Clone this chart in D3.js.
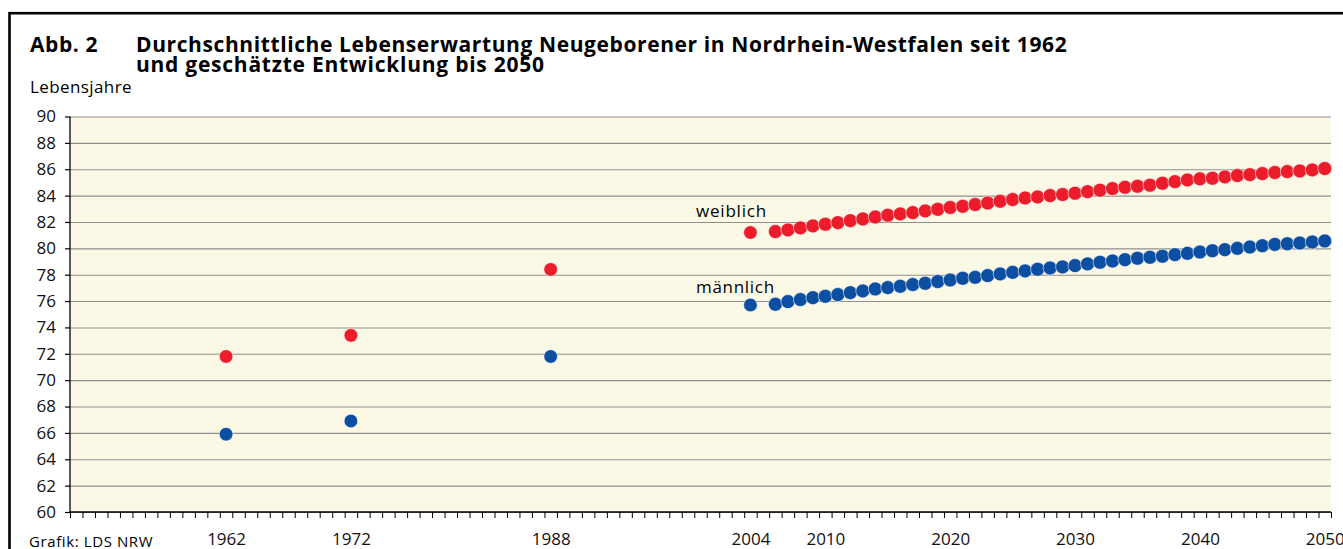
<!DOCTYPE html>
<html>
<head>
<meta charset="utf-8">
<script src="https://cdn.jsdelivr.net/npm/d3@7"></script>
<style>
  body { margin: 0; background: #fff; }
  svg { display: block; }
  .axis text { font-family: "Open Sans", sans-serif; font-size: 17px; fill: #111; }
</style>
</head>
<body>
<svg id="chart"></svg>
<script>
// observed years and values
var obsYears = [1962, 1972, 1988, 2004];
var obsWeiblich = [71.8, 73.4, 78.4, 81.2];
var obsMaennlich = [65.9, 66.9, 71.8, 75.7];

// estimated development 2006-2050
var estYears = [2006, 2007, 2008, 2009, 2010, 2011, 2012, 2013, 2014, 2015,
  2016, 2017, 2018, 2019, 2020, 2021, 2022, 2023, 2024, 2025,
  2026, 2027, 2028, 2029, 2030, 2031, 2032, 2033, 2034, 2035,
  2036, 2037, 2038, 2039, 2040, 2041, 2042, 2043, 2044, 2045,
  2046, 2047, 2048, 2049, 2050];
var estWeiblich = [81.27, 81.40, 81.55, 81.70, 81.83, 81.95, 82.10, 82.23, 82.38, 82.51,
  82.61, 82.71, 82.84, 82.96, 83.10, 83.19, 83.32, 83.44, 83.57, 83.70,
  83.82, 83.90, 84.00, 84.08, 84.18, 84.30, 84.41, 84.53, 84.63, 84.71,
  84.79, 84.94, 85.06, 85.19, 85.27, 85.32, 85.42, 85.52, 85.59, 85.67,
  85.75, 85.82, 85.87, 85.95, 86.05];
var estMaennlich = [75.76, 75.96, 76.11, 76.26, 76.36, 76.49, 76.64, 76.77, 76.92, 77.02,
  77.12, 77.25, 77.35, 77.48, 77.60, 77.73, 77.80, 77.93, 78.06, 78.18,
  78.29, 78.41, 78.51, 78.59, 78.69, 78.82, 78.94, 79.04, 79.14, 79.25,
  79.32, 79.40, 79.52, 79.62, 79.72, 79.82, 79.90, 80.00, 80.10, 80.20,
  80.30, 80.35, 80.40, 80.48, 80.56];

var xLabels = [1962, 1972, 1988, 2004, 2010, 2020, 2030, 2040, 2050];
var yTicks = [60, 62, 64, 66, 68, 70, 72, 74, 76, 78, 80, 82, 84, 86, 88, 90];
var firstYear = 1950, lastYear = 2050;

var width = 1343, height = 549;
var plotLeft = 70, plotRight = 1331, plotTop = 116.5, plotBottom = 512;

var svg = d3.select("#chart")
  .attr("width", width)
  .attr("height", height);

// outer frame
svg.append("rect")
  .attr("x", 9.5).attr("y", 13.2)
  .attr("width", 1500).attr("height", 700)
  .attr("fill", "none")
  .attr("stroke", "#000")
  .attr("stroke-width", 2.6);

// title
var title = svg.append("g")
  .attr("font-family", "'Open Sans', sans-serif")
  .attr("font-weight", "bold")
  .attr("font-size", "21px")
  .attr("letter-spacing", "0.6px")
  .attr("fill", "#000");
title.append("text").attr("x", 30).attr("y", 52).text("Abb. 2");
title.append("text").attr("x", 136).attr("y", 52)
  .text("Durchschnittliche Lebenserwartung Neugeborener in Nordrhein-Westfalen seit 1962");
title.append("text").attr("x", 136).attr("y", 71.5)
  .attr("letter-spacing", "0.75px")
  .text("und geschätzte Entwicklung bis 2050");

svg.append("text")
  .attr("x", 30).attr("y", 93)
  .attr("font-family", "'Open Sans', sans-serif")
  .attr("font-size", "17px")
  .attr("letter-spacing", "0.4px")
  .text("Lebensjahre");

svg.append("text")
  .attr("x", 29).attr("y", 547)
  .attr("font-family", "'Open Sans', sans-serif")
  .attr("font-size", "15px")
  .attr("letter-spacing", "0.6px")
  .text("Grafik: LDS NRW");

// scales
var x = d3.scaleLinear()
  .domain([firstYear - 0.5, lastYear + 0.5])
  .range([plotLeft, plotRight]);

var y = d3.scaleLinear()
  .domain([60, 90])
  .range([plotBottom, plotTop]);

// plot background
svg.append("rect")
  .attr("x", plotLeft).attr("y", plotTop)
  .attr("width", plotRight - plotLeft).attr("height", plotBottom - plotTop)
  .attr("fill", "#fcf8e6");

// gridlines
svg.append("g")
  .attr("transform", "translate(" + plotLeft + ",0)")
  .call(d3.axisLeft(y).tickValues(yTicks).tickSize(-(plotRight - plotLeft)).tickFormat(""))
  .call(function(g) {
    g.select(".domain").remove();
    g.selectAll("line").attr("stroke", "#8f8f8f").attr("stroke-width", 1.1);
  });

// y axis
svg.append("g")
  .attr("class", "axis")
  .attr("transform", "translate(" + plotLeft + ",0)")
  .call(d3.axisLeft(y).tickValues(yTicks).tickSize(5).tickPadding(9))
  .call(function(g) {
    g.select(".domain").attr("stroke", "#000").attr("stroke-width", 1.3)
      .attr("d", "M0," + plotBottom + "V" + plotTop);
    g.selectAll("line").attr("stroke", "#000").attr("stroke-width", 1.2);
  });

// x axis: tick marks at year boundaries
var boundaries = d3.range(firstYear - 0.5, lastYear + 1, 1);
svg.append("g")
  .attr("transform", "translate(0," + plotBottom + ")")
  .call(d3.axisBottom(x).tickValues(boundaries).tickSize(6).tickFormat(""))
  .call(function(g) {
    g.select(".domain").attr("stroke", "#000").attr("stroke-width", 1.3)
      .attr("d", "M" + plotLeft + ",0H" + plotRight);
    g.selectAll("line").attr("stroke", "#000").attr("stroke-width", 1);
  });

// x axis labels at year centres
svg.append("g")
  .attr("class", "axis")
  .attr("transform", "translate(0," + plotBottom + ")")
  .call(d3.axisBottom(x).tickValues(xLabels).tickSize(0).tickPadding(21).tickFormat(d3.format("d")))
  .call(function(g) {
    g.select(".domain").remove();
  });

// dots
var red = "#ec1c2a", blue = "#0c4ea2";

function drawSeries(years, values, color, r) {
  svg.append("g")
    .selectAll("circle")
    .data(years.map(function(d, i) { return {year: d, value: values[i]}; }))
    .enter()
    .append("circle")
    .attr("cx", function(d) { return x(d.year); })
    .attr("cy", function(d) { return y(d.value); })
    .attr("r", r)
    .attr("fill", color)
    .attr("stroke", "#fff")
    .attr("stroke-opacity", 0.8)
    .attr("stroke-width", 0.7);
}

drawSeries(obsYears, obsWeiblich, red, 6.8);
drawSeries(obsYears, obsMaennlich, blue, 6.8);
drawSeries(estYears, estWeiblich, red, 7);
drawSeries(estYears, estMaennlich, blue, 7);

// series labels
svg.append("text")
  .attr("x", 696).attr("y", 217)
  .attr("font-family", "'Open Sans', sans-serif")
  .attr("font-size", "17px")
  .attr("letter-spacing", "0.8px")
  .text("weiblich");

svg.append("text")
  .attr("x", 696).attr("y", 293)
  .attr("font-family", "'Open Sans', sans-serif")
  .attr("font-size", "17px")
  .attr("letter-spacing", "0.7px")
  .text("männlich");
</script>
</body>
</html>
